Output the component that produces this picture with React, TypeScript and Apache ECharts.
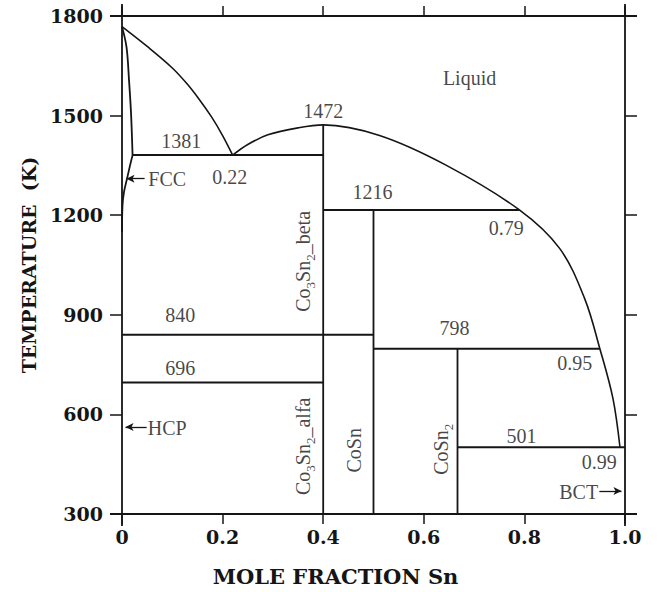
import { useEffect, useRef } from "react";
import * as echarts from "echarts";

const SERIF = "'Liberation Serif', 'Times New Roman', serif";
const BOLD_SERIF = "'DejaVu Serif', 'Liberation Serif', serif";
const INK = "#151515";

// Axis ticks
const xTicks = [0, 0.2, 0.4, 0.6, 0.8, 1.0];
const yTicks = [300, 600, 900, 1200, 1500, 1800];

// Melting point of Co and the congruent maximum of Co3Sn2
const coMelt = 1768;
const congruentMelt = [0.4, 1472];

// Liquid compositions at the invariant reactions
const liquidX = [0.22, 0.79, 0.95, 0.99];

// Isotherms: temperature, start and end composition
const isothermTemps = [1381, 1216, 840, 696, 798, 501];
const isothermStart = [0.021, 0.4, 0, 0, 0.5, 0.667];
const isothermEnd = [0.4, 0.79, 0.5, 0.4, 0.95, 1.0];

// Intermetallic compounds: composition and upper stability limit
const compoundX = [0.4, 0.5, 0.667];
const compoundTop = [1472, 1216, 798];

// Co-rich liquidus, melting point down to the eutectic
const coLiquidus = [
  [0, coMelt],
  [0.052, 1706],
  [0.099, 1645],
  [0.128, 1598],
  [0.154, 1548],
  [0.178, 1496],
  [0.2, 1440],
  [liquidX[0], isothermTemps[0]],
];

// Liquidus from the eutectic over the Co3Sn2 maximum to the Sn side
const snLiquidus = [
  [liquidX[0], isothermTemps[0]],
  [0.25, 1413],
  [0.29, 1442],
  [0.35, 1463],
  congruentMelt,
  [0.512, 1440],
  [0.645, 1350],
  [liquidX[1], isothermTemps[1]],
  [0.87, 1100],
  [0.92, 948],
  [liquidX[2], isothermTemps[4]],
  [0.976, 648],
  [liquidX[3], isothermTemps[5]],
];

// FCC (Co) solidus and solvus
const fccSolidus = [
  [0, coMelt],
  [0.009, 1706],
  [0.014, 1606],
  [0.018, 1506],
  [0.021, 1381],
];
const fccSolvus = [
  [0.021, 1381],
  [0.016, 1350],
  [0.0106, 1314],
  [0.004, 1270],
  [0.001, 1230],
  [0, 1150],
];

// Where the annotations sit (data coordinates of the text centre)
const isothermLabelAt = [
  [0.118, 1424],
  [0.498, 1271],
  [0.116, 898],
  [0.116, 739],
  [0.661, 859],
  [0.794, 534],
];
const liquidLabelAt = [
  [0.214, 1316],
  [0.764, 1160],
  [0.9, 754],
  [0.949, 456],
];
const peakLabelAt = [0.4, 1514];

const phaseNames = ["Liquid", "FCC", "HCP", "BCT"];
const phaseLabelAt = [
  [0.691, 1614],
  [0.09, 1310],
  [0.09, 559],
  [0.908, 366],
];

const compoundNames = [
  "Co{s|3}Sn{s|2}_beta",
  "Co{s|3}Sn{s|2}_alfa",
  "CoSn",
  "CoSn{s|2}",
];
const compoundLabelAt = [
  [0.359, 1061],
  [0.359, 504],
  [0.462, 492],
  [0.635, 495],
];

// Arrows pointing from phase names to their narrow fields
const arrowFrom = [
  [0.045, 1310],
  [0.049, 562],
  [0.949, 369],
];
const arrowTo = [
  [0.009, 1310],
  [0.007, 562],
  [0.993, 369],
];

const curve = (data: number[][], width = 1.6, smooth: number | boolean = 0.35) => ({
  type: "line",
  data,
  symbol: "none",
  smooth,
  silent: true,
  z: 3,
  lineStyle: { color: INK, width },
});

export default function App() {
  const ref = useRef<HTMLDivElement>(null);

  useEffect(() => {
    document.body.style.margin = "0";
    const chart = echarts.init(ref.current!, undefined, { renderer: "svg" });

    const isotherms = isothermTemps.map((t, i) =>
      curve(
        [
          [isothermStart[i], t],
          [isothermEnd[i], t],
        ],
        2,
        false
      )
    );
    const compounds = compoundX.map((x, i) =>
      curve(
        [
          [x, 300],
          [x, compoundTop[i]],
        ],
        1.8,
        false
      )
    );

    const sub = {
      fontSize: 13,
      fontFamily: SERIF,
      color: INK,
      verticalAlign: "top",
      padding: [12, 0, 0, 0],
    };

    const labelData: any[] = [];
    isothermTemps.forEach((t, i) =>
      labelData.push({ value: isothermLabelAt[i], label: { formatter: String(t) } })
    );
    liquidX.forEach((x, i) =>
      labelData.push({ value: liquidLabelAt[i], label: { formatter: x.toFixed(2) } })
    );
    labelData.push({ value: peakLabelAt, label: { formatter: String(congruentMelt[1]) } });
    phaseNames.forEach((n, i) =>
      labelData.push({ value: phaseLabelAt[i], label: { formatter: n } })
    );
    compoundNames.forEach((n, i) =>
      labelData.push({
        value: compoundLabelAt[i],
        label: { formatter: n, rotate: 90, rich: { s: sub } },
      })
    );

    const arrows = {
      type: "line",
      data: [],
      symbol: "none",
      silent: true,
      z: 4,
      markLine: {
        silent: true,
        symbol: ["none", "arrow"],
        symbolSize: [6, 8],
        label: { show: false },
        lineStyle: { type: "solid", color: INK, width: 1.3 },
        data: arrowFrom.map((f, i) => [{ coord: f }, { coord: arrowTo[i] }]),
      },
    };

    const tickStyle = { color: INK, width: 1.5 };
    const axisTitle = {
      fontFamily: BOLD_SERIF,
      fontWeight: "bold",
      fontSize: 19,
      color: INK,
    };

    chart.setOption({
      animation: false,
      backgroundColor: "#ffffff",
      grid: { left: 122, right: 32, top: 16, bottom: 77 },
      xAxis: [
        {
          type: "value",
          position: "bottom",
          min: xTicks[0],
          max: xTicks[xTicks.length - 1],
          interval: 0.2,
          axisLine: { show: false, onZero: false },
          axisTick: { show: true, length: 10, lineStyle: tickStyle },
          axisLabel: {
            margin: 13,
            fontFamily: BOLD_SERIF,
            fontWeight: "bold",
            fontSize: 19,
            color: INK,
            formatter: (v: number) => (v === 0 ? "0" : v.toFixed(1)),
          },
          splitLine: { show: false },
          name: "MOLE FRACTION Sn",
          nameLocation: "middle",
          nameGap: 52,
          nameTextStyle: { ...axisTitle, fontSize: 21, padding: [0, 76, 0, 0] },
        },
        {
          type: "value",
          position: "top",
          min: xTicks[0],
          max: xTicks[xTicks.length - 1],
          interval: 0.2,
          axisLine: { show: false, onZero: false },
          axisTick: { show: true, length: 10, lineStyle: tickStyle },
          axisLabel: { show: false },
          splitLine: { show: false },
        },
      ],
      yAxis: [
        {
          type: "value",
          position: "left",
          min: yTicks[0],
          max: yTicks[yTicks.length - 1],
          interval: 300,
          axisLine: { show: false, onZero: false },
          axisTick: { show: true, length: 12, lineStyle: tickStyle },
          axisLabel: {
            margin: 19,
            fontFamily: BOLD_SERIF,
            fontWeight: "bold",
            fontSize: 19,
            color: INK,
            formatter: (v: number) => String(v),
          },
          splitLine: { show: false },
          name: "TEMPERATURE  (K)",
          nameLocation: "middle",
          nameGap: 84,
          nameRotate: 90,
          nameTextStyle: axisTitle,
        },
        {
          type: "value",
          position: "right",
          min: yTicks[0],
          max: yTicks[yTicks.length - 1],
          interval: 300,
          axisLine: { show: false, onZero: false },
          axisTick: { show: true, length: 12, lineStyle: tickStyle },
          axisLabel: { show: false },
          splitLine: { show: false },
        },
      ],
      series: [
        curve(coLiquidus, 1.6),
        curve(snLiquidus, 1.6),
        curve(fccSolidus, 1.8),
        curve(fccSolvus, 1.8),
        ...isotherms,
        ...compounds,
        arrows,
        {
          type: "scatter",
          symbolSize: 1,
          silent: true,
          z: 5,
          itemStyle: { color: "transparent" },
          label: {
            show: true,
            position: "inside",
            fontFamily: SERIF,
            fontSize: 20,
            lineHeight: 22,
            color: INK,
          },
          data: labelData,
        },
      ],
    });

    // Plot frame; each side runs a little past the corners
    const lo = chart.convertToPixel({ xAxisIndex: 0, yAxisIndex: 0 }, [0, 300]) as number[];
    const hi = chart.convertToPixel({ xAxisIndex: 0, yAxisIndex: 0 }, [1, 1800]) as number[];
    const over = 12;
    const frameStyle = { stroke: INK, lineWidth: 1.8 };
    const seg = (x1: number, y1: number, x2: number, y2: number) => ({
      type: "line",
      silent: true,
      z: 10,
      shape: { x1, y1, x2, y2 },
      style: frameStyle,
    });
    chart.setOption({
      graphic: [
        seg(lo[0] - over, lo[1], hi[0] + over, lo[1]),
        seg(lo[0] - over, hi[1], hi[0] + over, hi[1]),
        seg(lo[0], hi[1] - over, lo[0], lo[1] + over),
        seg(hi[0], hi[1] - over, hi[0], lo[1] + over),
      ],
    });

    return () => chart.dispose();
  }, []);

  return <div ref={ref} style={{ width: 657, height: 592 }} />;
}
